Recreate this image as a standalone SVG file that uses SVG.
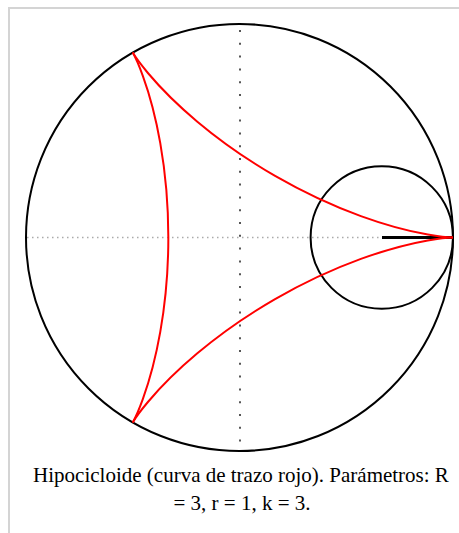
<svg xmlns="http://www.w3.org/2000/svg" xmlns:xlink="http://www.w3.org/1999/xlink" width="459" height="533" viewBox="0 0 459 533">
<style>
.frame{stroke:#d4d4d4;stroke-width:2;fill:none}
.circ{fill:none;stroke:#000;stroke-width:2}
.red{fill:none;stroke:#ff0000;stroke-width:2;stroke-linejoin:round}
.vaxis{stroke:#555;stroke-width:2;stroke-dasharray:2 10.8}
.haxis{stroke:#aaa;stroke-width:1.5;stroke-dasharray:1.5 3.5}
.cap{font-family:"Liberation Serif","Times New Roman",serif;font-size:21px;fill:#000;text-anchor:middle}
</style>
<defs>
<path id="arc" d="M453,237.5 C453,237.5 444.08,237.44 427.77,234.56 C411.46,231.68 387.85,225.91 360.89,216.1 C333.94,206.29 303.77,192.43 275.08,175.87 C246.4,159.31 219.31,140.11 197.34,121.67 C175.37,103.23 158.56,85.68 147.91,72.99 C137.27,60.3 132.75,52.6 132.75,52.6"/>
</defs>
<g id="frame">
<path class="frame" d="M9,534 V8 H460"/>
</g>
<g id="axes">
<line class="haxis" x1="27" y1="237.5" x2="452" y2="237.5"/>
<line class="vaxis" x1="240" y1="30" x2="240" y2="450"/>
</g>
<g id="big-circle">
<circle class="circ" cx="239.5" cy="237.5" r="213.5"/>
</g>
<g id="small-circle">
<circle class="circ" cx="381.8" cy="237.5" r="71.2"/>
<line x1="382" y1="237.5" x2="453" y2="237.5" stroke="#000" stroke-width="3"/>
</g>
<g id="hypocycloid">
<use xlink:href="#arc" class="red"/>
<use xlink:href="#arc" class="red" transform="rotate(-120 239.5 237.5)"/>
<use xlink:href="#arc" class="red" transform="rotate(-240 239.5 237.5)"/>
</g>
<g id="caption">
<text class="cap" x="241" y="482">Hipocicloide (curva de trazo rojo). Parámetros: R</text>
<text class="cap" x="242" y="510">= 3, r = 1, k = 3.</text>
</g>
</svg>
